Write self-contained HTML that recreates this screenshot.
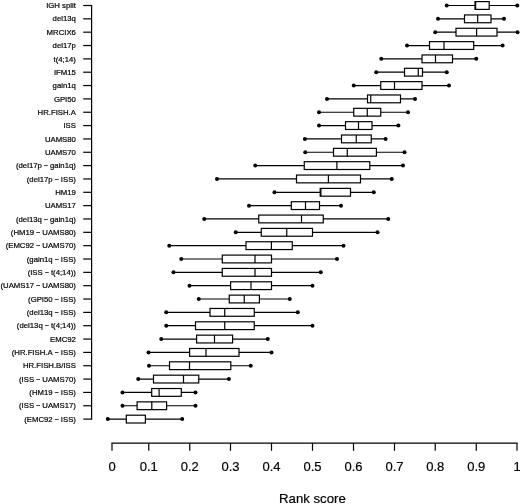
<!DOCTYPE html>
<html><head><meta charset="utf-8"><title>Rank score</title>
<style>html,body{margin:0;padding:0;background:#fff}svg{display:block}text{font-family:"Liberation Sans",Arial,sans-serif;fill:#000;stroke:#000;stroke-width:0.2px}</style></head><body>
<svg width="520" height="504" viewBox="0 0 520 504">
<rect width="520" height="504" fill="#fff"/>
<g stroke="#000" stroke-width="1.2" fill="none" stroke-linecap="butt">
<path d="M91.6 4.90V419.70"/>
<path d="M83.2 5.50H91.6"/>
<path d="M83.2 18.84H91.6"/>
<path d="M83.2 32.18H91.6"/>
<path d="M83.2 45.53H91.6"/>
<path d="M83.2 58.87H91.6"/>
<path d="M83.2 72.21H91.6"/>
<path d="M83.2 85.55H91.6"/>
<path d="M83.2 98.89H91.6"/>
<path d="M83.2 112.24H91.6"/>
<path d="M83.2 125.58H91.6"/>
<path d="M83.2 138.92H91.6"/>
<path d="M83.2 152.26H91.6"/>
<path d="M83.2 165.60H91.6"/>
<path d="M83.2 178.95H91.6"/>
<path d="M83.2 192.29H91.6"/>
<path d="M83.2 205.63H91.6"/>
<path d="M83.2 218.97H91.6"/>
<path d="M83.2 232.31H91.6"/>
<path d="M83.2 245.66H91.6"/>
<path d="M83.2 259.00H91.6"/>
<path d="M83.2 272.34H91.6"/>
<path d="M83.2 285.68H91.6"/>
<path d="M83.2 299.02H91.6"/>
<path d="M83.2 312.37H91.6"/>
<path d="M83.2 325.71H91.6"/>
<path d="M83.2 339.05H91.6"/>
<path d="M83.2 352.39H91.6"/>
<path d="M83.2 365.73H91.6"/>
<path d="M83.2 379.08H91.6"/>
<path d="M83.2 392.42H91.6"/>
<path d="M83.2 405.76H91.6"/>
<path d="M83.2 419.10H91.6"/>
<path d="M111.4 443.2H517.6"/>
<path d="M112 443.2V450.8"/>
<path d="M148.75 443.2V450.8"/>
<path d="M189.75 443.2V450.8"/>
<path d="M230.5 443.2V450.8"/>
<path d="M271.5 443.2V450.8"/>
<path d="M312.5 443.2V450.8"/>
<path d="M353.5 443.2V450.8"/>
<path d="M394.5 443.2V450.8"/>
<path d="M435.25 443.2V450.8"/>
<path d="M476.25 443.2V450.8"/>
<path d="M517 443.2V450.8"/>
<path d="M446.7 5.50H475M489.2 5.50H517.3"/>
<rect x="475" y="1.60" width="14.20" height="7.8" fill="#fff"/>
<path d="M475.6 1.60V9.40"/>
<path d="M438 18.84H464.5M491 18.84H504"/>
<rect x="464.5" y="14.94" width="26.50" height="7.8" fill="#fff"/>
<path d="M477.7 14.94V22.74"/>
<path d="M435.2 32.18H456M497 32.18H517.5"/>
<rect x="456" y="28.28" width="41.00" height="7.8" fill="#fff"/>
<path d="M476.6 28.28V36.08"/>
<path d="M407 45.53H429.5M473.7 45.53H502.6"/>
<rect x="429.5" y="41.63" width="44.20" height="7.8" fill="#fff"/>
<path d="M444 41.63V49.43"/>
<path d="M381.25 58.87H422M452.5 58.87H476.25"/>
<rect x="422" y="54.97" width="30.50" height="7.8" fill="#fff"/>
<path d="M435.5 54.97V62.77"/>
<path d="M376.25 72.21H404.5M422.5 72.21H446.75"/>
<rect x="404.5" y="68.31" width="18.00" height="7.8" fill="#fff"/>
<path d="M418.25 68.31V76.11"/>
<path d="M353.75 85.55H380.75M422 85.55H449"/>
<rect x="380.75" y="81.65" width="41.25" height="7.8" fill="#fff"/>
<path d="M394.5 81.65V89.45"/>
<path d="M327 98.89H367.5M400.5 98.89H415"/>
<rect x="367.5" y="94.99" width="33.00" height="7.8" fill="#fff"/>
<path d="M370.75 94.99V102.79"/>
<path d="M319 112.24H353.75M380.75 112.24H408"/>
<rect x="353.75" y="108.34" width="27.00" height="7.8" fill="#fff"/>
<path d="M367.25 108.34V116.14"/>
<path d="M319 125.58H345.5M372 125.58H398.4"/>
<rect x="345.5" y="121.68" width="26.50" height="7.8" fill="#fff"/>
<path d="M358.5 121.68V129.48"/>
<path d="M304.9 138.92H341.5M371.25 138.92H385.6"/>
<rect x="341.5" y="135.02" width="29.75" height="7.8" fill="#fff"/>
<path d="M356.25 135.02V142.82"/>
<path d="M305.25 152.26H333.5M376.4 152.26H404.5"/>
<rect x="333.5" y="148.36" width="42.90" height="7.8" fill="#fff"/>
<path d="M347.25 148.36V156.16"/>
<path d="M255.25 165.60H304.25M369.8 165.60H403"/>
<rect x="304.25" y="161.70" width="65.55" height="7.8" fill="#fff"/>
<path d="M336.9 161.70V169.50"/>
<path d="M217 178.95H296.5M360.5 178.95H391.75"/>
<rect x="296.5" y="175.05" width="64.00" height="7.8" fill="#fff"/>
<path d="M328.4 175.05V182.85"/>
<path d="M274.5 192.29H320.2M350.5 192.29H373.75"/>
<rect x="320.2" y="188.39" width="30.30" height="7.8" fill="#fff"/>
<path d="M320.9 188.39V196.19"/>
<path d="M249 205.63H291.3M319.5 205.63H341"/>
<rect x="291.3" y="201.73" width="28.20" height="7.8" fill="#fff"/>
<path d="M305.5 201.73V209.53"/>
<path d="M204.25 218.97H258.75M323.25 218.97H388.25"/>
<rect x="258.75" y="215.07" width="64.50" height="7.8" fill="#fff"/>
<path d="M301.5 215.07V222.87"/>
<path d="M235.75 232.31H261.25M312.5 232.31H377.5"/>
<rect x="261.25" y="228.41" width="51.25" height="7.8" fill="#fff"/>
<path d="M286.75 228.41V236.21"/>
<path d="M169.25 245.66H246M292.25 245.66H343.5"/>
<rect x="246" y="241.76" width="46.25" height="7.8" fill="#fff"/>
<path d="M271.4 241.76V249.56"/>
<path d="M181.25 259.00H222.25M271.5 259.00H337"/>
<rect x="222.25" y="255.10" width="49.25" height="7.8" fill="#fff"/>
<path d="M255 255.10V262.90"/>
<path d="M173.5 272.34H222.25M271.5 272.34H320.75"/>
<rect x="222.25" y="268.44" width="49.25" height="7.8" fill="#fff"/>
<path d="M255 268.44V276.24"/>
<path d="M189.5 285.68H230.6M271.5 285.68H312.5"/>
<rect x="230.6" y="281.78" width="40.90" height="7.8" fill="#fff"/>
<path d="M251 281.78V289.58"/>
<path d="M198.75 299.02H229.25M259.4 299.02H289.75"/>
<rect x="229.25" y="295.12" width="30.15" height="7.8" fill="#fff"/>
<path d="M244.25 295.12V302.92"/>
<path d="M166.25 312.37H210M254.25 312.37H297.75"/>
<rect x="210" y="308.47" width="44.25" height="7.8" fill="#fff"/>
<path d="M224.75 308.47V316.27"/>
<path d="M166.25 325.71H195.5M254.25 325.71H312.5"/>
<rect x="195.5" y="321.81" width="58.75" height="7.8" fill="#fff"/>
<path d="M224.75 321.81V329.61"/>
<path d="M161.25 339.05H196.6M232.6 339.05H267.75"/>
<rect x="196.6" y="335.15" width="36.00" height="7.8" fill="#fff"/>
<path d="M214.5 335.15V342.95"/>
<path d="M148.5 352.39H189.6M239 352.39H271.5"/>
<rect x="189.6" y="348.49" width="49.40" height="7.8" fill="#fff"/>
<path d="M206 348.49V356.29"/>
<path d="M149 365.73H169.5M230.8 365.73H250.7"/>
<rect x="169.5" y="361.83" width="61.30" height="7.8" fill="#fff"/>
<path d="M189.5 361.83V369.63"/>
<path d="M138.25 379.08H153.5M198.75 379.08H228.9"/>
<rect x="153.5" y="375.18" width="45.25" height="7.8" fill="#fff"/>
<path d="M183.5 375.18V382.98"/>
<path d="M122.5 392.42H151.7M181.3 392.42H195.5"/>
<rect x="151.7" y="388.52" width="29.60" height="7.8" fill="#fff"/>
<path d="M159.1 388.52V396.32"/>
<path d="M122.5 405.76H137.1M166.6 405.76H195.5"/>
<rect x="137.1" y="401.86" width="29.50" height="7.8" fill="#fff"/>
<path d="M151.8 401.86V409.66"/>
<path d="M107.8 419.10H126.3M145.4 419.10H182.2"/>
<rect x="126.3" y="415.20" width="19.10" height="7.8" fill="#fff"/>
</g>
<g fill="#000">
<circle cx="446.7" cy="5.50" r="2"/><circle cx="517.3" cy="5.50" r="2"/>
<circle cx="438" cy="18.84" r="2"/><circle cx="504" cy="18.84" r="2"/>
<circle cx="435.2" cy="32.18" r="2"/><circle cx="517.5" cy="32.18" r="2"/>
<circle cx="407" cy="45.53" r="2"/><circle cx="502.6" cy="45.53" r="2"/>
<circle cx="381.25" cy="58.87" r="2"/><circle cx="476.25" cy="58.87" r="2"/>
<circle cx="376.25" cy="72.21" r="2"/><circle cx="446.75" cy="72.21" r="2"/>
<circle cx="353.75" cy="85.55" r="2"/><circle cx="449" cy="85.55" r="2"/>
<circle cx="327" cy="98.89" r="2"/><circle cx="415" cy="98.89" r="2"/>
<circle cx="319" cy="112.24" r="2"/><circle cx="408" cy="112.24" r="2"/>
<circle cx="319" cy="125.58" r="2"/><circle cx="398.4" cy="125.58" r="2"/>
<circle cx="304.9" cy="138.92" r="2"/><circle cx="385.6" cy="138.92" r="2"/>
<circle cx="305.25" cy="152.26" r="2"/><circle cx="404.5" cy="152.26" r="2"/>
<circle cx="255.25" cy="165.60" r="2"/><circle cx="403" cy="165.60" r="2"/>
<circle cx="217" cy="178.95" r="2"/><circle cx="391.75" cy="178.95" r="2"/>
<circle cx="274.5" cy="192.29" r="2"/><circle cx="373.75" cy="192.29" r="2"/>
<circle cx="249" cy="205.63" r="2"/><circle cx="341" cy="205.63" r="2"/>
<circle cx="204.25" cy="218.97" r="2"/><circle cx="388.25" cy="218.97" r="2"/>
<circle cx="235.75" cy="232.31" r="2"/><circle cx="377.5" cy="232.31" r="2"/>
<circle cx="169.25" cy="245.66" r="2"/><circle cx="343.5" cy="245.66" r="2"/>
<circle cx="181.25" cy="259.00" r="2"/><circle cx="337" cy="259.00" r="2"/>
<circle cx="173.5" cy="272.34" r="2"/><circle cx="320.75" cy="272.34" r="2"/>
<circle cx="189.5" cy="285.68" r="2"/><circle cx="312.5" cy="285.68" r="2"/>
<circle cx="198.75" cy="299.02" r="2"/><circle cx="289.75" cy="299.02" r="2"/>
<circle cx="166.25" cy="312.37" r="2"/><circle cx="297.75" cy="312.37" r="2"/>
<circle cx="166.25" cy="325.71" r="2"/><circle cx="312.5" cy="325.71" r="2"/>
<circle cx="161.25" cy="339.05" r="2"/><circle cx="267.75" cy="339.05" r="2"/>
<circle cx="148.5" cy="352.39" r="2"/><circle cx="271.5" cy="352.39" r="2"/>
<circle cx="149" cy="365.73" r="2"/><circle cx="250.7" cy="365.73" r="2"/>
<circle cx="138.25" cy="379.08" r="2"/><circle cx="228.9" cy="379.08" r="2"/>
<circle cx="122.5" cy="392.42" r="2"/><circle cx="195.5" cy="392.42" r="2"/>
<circle cx="122.5" cy="405.76" r="2"/><circle cx="195.5" cy="405.76" r="2"/>
<circle cx="107.8" cy="419.10" r="2"/><circle cx="182.2" cy="419.10" r="2"/>
</g>
<g font-size="7.75" text-anchor="end" style="stroke-width:0.1px">
<text x="75.9" y="8.15">IGH split</text>
<text x="75.9" y="21.49">del13q</text>
<text x="75.9" y="34.83">MRCIX6</text>
<text x="75.9" y="48.18">del17p</text>
<text x="75.9" y="61.52">t(4;14)</text>
<text x="75.9" y="74.86">IFM15</text>
<text x="75.9" y="88.20">gain1q</text>
<text x="75.9" y="101.54">GPI50</text>
<text x="75.9" y="114.89">HR.FISH.A</text>
<text x="75.9" y="128.23">ISS</text>
<text x="75.9" y="141.57">UAMS80</text>
<text x="75.9" y="154.91">UAMS70</text>
<text x="75.9" y="168.25">(del17p<tspan font-size="7.2"> − </tspan>gain1q)</text>
<text x="75.9" y="181.60">(del17p<tspan font-size="7.2"> − </tspan>ISS)</text>
<text x="75.9" y="194.94">HM19</text>
<text x="75.9" y="208.28">UAMS17</text>
<text x="75.9" y="221.62">(del13q<tspan font-size="7.2"> − </tspan>gain1q)</text>
<text x="75.9" y="234.96">(HM19<tspan font-size="7.2"> − </tspan>UAMS80)</text>
<text x="75.9" y="248.31">(EMC92<tspan font-size="7.2"> − </tspan>UAMS70)</text>
<text x="75.9" y="261.65">(gain1q<tspan font-size="7.2"> − </tspan>ISS)</text>
<text x="75.9" y="274.99">(ISS<tspan font-size="7.2"> − </tspan>t(4;14))</text>
<text x="75.9" y="288.33">(UAMS17<tspan font-size="7.2"> − </tspan>UAMS80)</text>
<text x="75.9" y="301.67">(GPI50<tspan font-size="7.2"> − </tspan>ISS)</text>
<text x="75.9" y="315.02">(del13q<tspan font-size="7.2"> − </tspan>ISS)</text>
<text x="75.9" y="328.36">(del13q<tspan font-size="7.2"> − </tspan>t(4;14))</text>
<text x="75.9" y="341.70">EMC92</text>
<text x="75.9" y="355.04">(HR.FISH.A<tspan font-size="7.2"> − </tspan>ISS)</text>
<text x="75.9" y="368.38">HR.FISH.B/ISS</text>
<text x="75.9" y="381.73">(ISS<tspan font-size="7.2"> − </tspan>UAMS70)</text>
<text x="75.9" y="395.07">(HM19<tspan font-size="7.2"> − </tspan>ISS)</text>
<text x="75.9" y="408.41">(ISS<tspan font-size="7.2"> − </tspan>UAMS17)</text>
<text x="75.9" y="421.75">(EMC92<tspan font-size="7.2"> − </tspan>ISS)</text>
</g>
<g font-size="13" text-anchor="middle">
<text x="112" y="471.3">0</text>
<text x="148.75" y="471.3">0.1</text>
<text x="189.75" y="471.3">0.2</text>
<text x="230.5" y="471.3">0.3</text>
<text x="271.5" y="471.3">0.4</text>
<text x="312.5" y="471.3">0.5</text>
<text x="353.5" y="471.3">0.6</text>
<text x="394.5" y="471.3">0.7</text>
<text x="435.25" y="471.3">0.8</text>
<text x="476.25" y="471.3">0.9</text>
<text x="517" y="471.3">1</text>
<text x="312.4" y="502.5" font-size="13.2">Rank score</text>
</g>
</svg></body></html>
